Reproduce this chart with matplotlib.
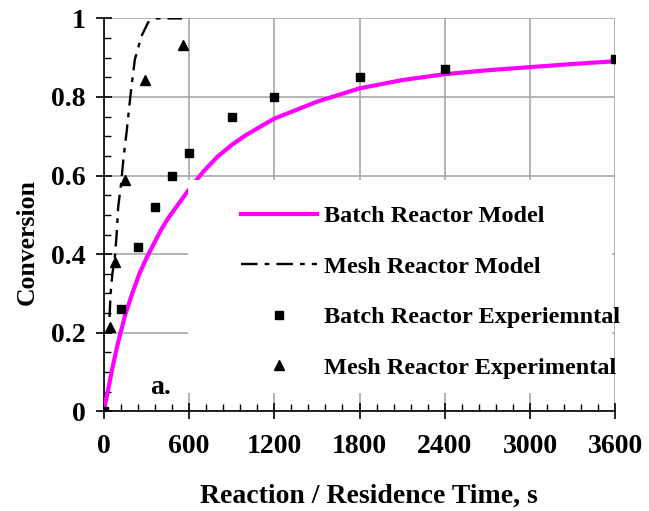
import matplotlib
matplotlib.use("Agg")
import matplotlib.pyplot as plt
from matplotlib.patches import Rectangle
from matplotlib.ticker import MultipleLocator

plt.rcParams["font.family"] = ["Liberation Serif", "DejaVu Serif"]
plt.rcParams["font.weight"] = "bold"

# model curves (time in s, conversion)
batch_model_t = [0, 10, 30, 60, 100, 150, 200, 250, 300, 350, 400, 450, 500, 600,
                 700, 800, 900, 1000, 1200, 1500, 1800, 2100, 2400, 2700, 3000,
                 3300, 3600]
batch_model_x = [0, 0.02, 0.055, 0.11, 0.175, 0.245, 0.30, 0.35, 0.39, 0.425, 0.46,
                 0.49, 0.515, 0.565, 0.61, 0.648, 0.678, 0.703, 0.745, 0.788,
                 0.822, 0.843, 0.858, 0.868, 0.876, 0.884, 0.891]

mesh_model_t = [40, 45, 50, 60, 77, 90, 101, 120, 140, 160, 188, 218, 265, 312,
                370, 450, 550]
mesh_model_x = [0.24, 0.28, 0.31, 0.35, 0.39, 0.45, 0.52, 0.575, 0.65, 0.71, 0.806,
                0.895, 0.955, 0.99, 1.0, 1.0, 1.0]

# experimental points
batch_exp_t = [0, 120, 240, 360, 480, 600, 900, 1200, 1800, 2400, 3600]
batch_exp_x = [0, 0.26, 0.417, 0.52, 0.598, 0.658, 0.749, 0.799, 0.85, 0.87, 0.896]

mesh_exp_t = [42, 82, 146, 291, 554]
mesh_exp_x = [0.214, 0.38, 0.588, 0.842, 0.933]

fig = plt.figure(figsize=(6.49, 5.11), dpi=100)
ax = fig.add_axes([0.160, 0.195, 0.788, 0.769])

ax.plot(batch_model_t, batch_model_x, color="#ff00ff", lw=3.0,
        label="Batch Reactor Model", zorder=3)
ax.plot(mesh_model_t, mesh_model_x, color="black", lw=1.7,
        dashes=(7, 3, 2, 3), label="Mesh Reactor Model", zorder=3)
ax.plot(batch_exp_t, batch_exp_x, ls="none", marker="s", ms=5.5, color="black",
        label="Batch Reactor Experiemntal", zorder=3)
ax.plot(mesh_exp_t, mesh_exp_x, ls="none", marker="^", ms=6.5, color="black",
        label="Mesh Reactor Experimental", zorder=3)

ax.set_xlim(0, 3600)
ax.set_ylim(0, 1)
ax.xaxis.set_major_locator(MultipleLocator(600))
ax.xaxis.set_minor_locator(MultipleLocator(120))
ax.yaxis.set_major_locator(MultipleLocator(0.2))
ax.yaxis.set_minor_locator(MultipleLocator(0.05))
ax.yaxis.set_major_formatter(plt.FuncFormatter(lambda v, p: f"{v:g}"))

ax.grid(True, which="major", color="#a8a8a8", lw=1.2)
ax.set_axisbelow(True)
for side in ("top", "right"):
    ax.spines[side].set_visible(False)
for side in ("left", "bottom"):
    ax.spines[side].set_linewidth(1.2)

ax.tick_params(which="major", direction="inout", length=12, width=1.2,
               labelsize=20)
ax.tick_params(axis="y", which="major", pad=7)
ax.tick_params(axis="x", which="major", pad=10)
ax.tick_params(which="minor", direction="in", length=5, width=1)

ax.set_xlabel("Reaction / Residence Time, s", fontsize=20, fontweight="bold")
ax.xaxis.set_label_coords(0.519, -0.185)
ax.set_ylabel("Conversion", fontsize=18.5, fontweight="bold")
ax.yaxis.set_label_coords(-0.127, 0.43)

# white panel behind the legend
ax.add_patch(Rectangle((0.164, 0.047), 0.83, 0.543, transform=ax.transAxes,
                       facecolor="white", edgecolor="none", zorder=4))

leg = ax.legend(loc="upper left", bbox_to_anchor=(0.25, 0.549), frameon=False,
                prop={"size": 17.5, "weight": "bold"}, handlelength=3.1,
                handletextpad=0.3, labelspacing=1.17, borderaxespad=0)
leg.set_zorder(5)

ax.text(0.09, 0.045, "a.", transform=ax.transAxes, fontsize=20,
        fontweight="bold", zorder=6)

fig.savefig("out.png", dpi=100)
